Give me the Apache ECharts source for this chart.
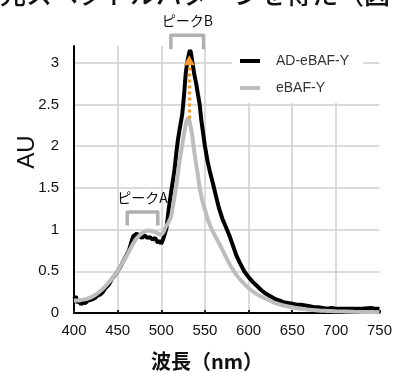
<!DOCTYPE html>
<html><head><meta charset="utf-8">
<script src="https://cdn.jsdelivr.net/npm/echarts@6/dist/echarts.min.js"></script>
<style>html,body{margin:0;padding:0;background:#fff}#c{width:395px;height:373px}</style>
</head><body><div id="c"></div>
<script>
// ---- data ----
const seriesNames = ['AD-eBAF-Y', 'eBAF-Y'];
const xTicks = [400, 450, 500, 550, 600, 650, 700, 750];
const yTicks = [0, 0.5, 1, 1.5, 2, 2.5, 3];
const adWavelength = [400,402,404,406,408,410,413,416,420,424,427,430,433,436,440,443,446,450,453,456,460,463,466,468,470,472,475,478,481,484,487,490,493,496,498,500,502,504,506,508,510,512,515,517,519,521,524,526,528,530,532,533,534,536,538,540,542,544,546,550,553,556,559,562,566,570,574,578,582,586,590,595,600,605,610,615,620,625,630,635,640,645,650,655,660,662,665,670,675,680,685,690,695,700,710,720,730,740,745,750];
const adValue = [0.17,0.2,0.12,0.16,0.1,0.13,0.12,0.15,0.16,0.18,0.21,0.22,0.25,0.3,0.34,0.4,0.44,0.5,0.55,0.61,0.69,0.75,0.86,0.92,0.9,0.95,0.92,0.9,0.93,0.9,0.91,0.88,0.9,0.84,0.87,0.83,0.88,0.9,1.02,1.2,1.36,1.5,1.7,1.9,2.07,2.2,2.38,2.6,2.87,3.02,3.12,3.15,3.12,2.98,2.85,2.75,2.62,2.5,2.3,2.0,1.82,1.68,1.56,1.43,1.26,1.13,1.03,0.93,0.81,0.69,0.6,0.5,0.43,0.37,0.32,0.27,0.23,0.2,0.17,0.15,0.13,0.12,0.11,0.1,0.1,0.12,0.09,0.08,0.07,0.07,0.06,0.05,0.06,0.05,0.05,0.05,0.05,0.06,0.05,0.05];
const eWavelength = [400,405,410,415,420,425,430,435,440,445,450,455,460,465,470,475,480,485,490,495,499,502,505,508,511,514,516,518,521,524,527,529,530.5,532,534,536,538,540,542,544,547,550,554,558,564,570,576,582,588,594,600,606,612,618,624,630,640,650,660,670,680,690,700,720,750];
const eValue = [0.15,0.15,0.16,0.17,0.19,0.22,0.26,0.31,0.37,0.43,0.5,0.59,0.68,0.78,0.87,0.93,0.97,0.99,0.98,0.96,0.94,0.96,1.03,1.08,1.15,1.32,1.45,1.59,1.82,2.02,2.2,2.3,2.33,2.31,2.22,2.08,1.92,1.78,1.65,1.5,1.35,1.24,1.1,1.0,0.88,0.76,0.63,0.52,0.43,0.36,0.3,0.25,0.21,0.18,0.15,0.12,0.09,0.07,0.05,0.04,0.03,0.025,0.02,0.015,0.01];
// annotations (data coordinates)
const arrowFrom = [532, 2.33], arrowTo = [532, 3.03];
const peakA = {label: 'ピークA', x0: 461, x1: 496, yTop: 1.21, yLeg: 1.05, yText: 1.38};
const peakB = {label: 'ピークB', x0: 511, x1: 548.5, yTop: 3.33, yLeg: 3.16, yText: 3.5};
const xName = '波長（nm）', yName = 'AU';
const topText = '光スペクトルパターンを得た（図';

const zip = (a, b) => a.map((v, i) => [v, b[i]]);
const chart = echarts.init(document.getElementById('c'), null, {renderer: 'canvas'});
const latin = '"Liberation Sans", Arial, sans-serif';
const cjk = '"Noto Sans CJK JP", sans-serif';
chart.setOption({
  animation: false,
  backgroundColor: '#fff',
  grid: {left: 74, right: 11, top: 46, bottom: 60, containLabel: false},
  legend: {
    orient: 'vertical', left: 232, top: 46, backgroundColor: '#fff',
    padding: [8, 14, 8, 8], itemWidth: 20, itemHeight: 4, itemGap: 13,
    icon: 'rect',
    textStyle: {fontFamily: latin, fontSize: 14, color: '#333', padding: [0, 0, 0, 11]},
    data: seriesNames
  },
  xAxis: {
    type: 'value', min: xTicks[0], max: xTicks[xTicks.length - 1], interval: 50,
    axisLine: {lineStyle: {color: '#000', width: 2}},
    axisTick: {show: true, inside: true, length: 3, lineStyle: {color: '#222', width: 2}},
    axisLabel: {fontFamily: latin, fontSize: 15, color: '#111', margin: 10},
    splitLine: {show: true, showMinLine: false, showMaxLine: false, lineStyle: {color: '#cfcfcf', width: 1.5}}
  },
  yAxis: {
    type: 'value', min: yTicks[0], max: 3.2, interval: 0.5,
    axisLine: {show: true, lineStyle: {color: '#000', width: 2}},
    axisTick: {show: false},
    axisLabel: {fontFamily: latin, fontSize: 15, color: '#111', margin: 15, showMaxLabel: false},
    splitLine: {show: true, showMinLine: false, showMaxLine: false, lineStyle: {color: '#cfcfcf', width: 1.5}}
  },
  series: [
    {name: seriesNames[0], type: 'line', data: zip(adWavelength, adValue), showSymbol: false, symbol: 'none',
     smooth: false, lineStyle: {color: '#000', width: 4}, itemStyle: {color: '#000'}},
    {name: seriesNames[1], type: 'line', data: zip(eWavelength, eValue), showSymbol: false, symbol: 'none',
     smooth: 0.3, lineStyle: {color: '#bdbdbd', width: 4}, itemStyle: {color: '#bdbdbd'},
     markLine: {silent: true, symbol: ['none', 'triangle'], symbolSize: [11, 10],
       label: {show: false},
       lineStyle: {color: '#f39a2e', width: 3, type: [3, 3]},
       data: [[{coord: arrowFrom}, {coord: arrowTo}]]}}
  ]
});

function px(p) { return chart.convertToPixel({gridIndex: 0}, p); }
function bracket(b) {
  const a = px([b.x0, b.yLeg]), c = px([b.x0, b.yTop]), d = px([b.x1, b.yTop]), e = px([b.x1, b.yLeg]);
  const t = px([(b.x0 + b.x1) / 2, b.yText]);
  return [
    {type: 'polyline', shape: {points: [a, c, d, e]}, style: {stroke: '#b0b0b0', lineWidth: 3.5, fill: null, lineJoin: 'round'}, z: 10},
    {type: 'text', x: t[0], y: t[1], style: {text: b.label, fontFamily: cjk, fontSize: 14, fill: '#111', align: 'center', verticalAlign: 'middle'}, z: 10}
  ];
}
const els = [].concat(bracket(peakA), bracket(peakB));
els.push({type: 'text', x: 27, y: 152, rotation: Math.PI / 2,
  style: {text: yName, fontFamily: latin, fontSize: 24, fill: '#111', align: 'center', verticalAlign: 'middle'}});
els.push({type: 'text', x: 207, y: 361,
  style: {text: xName, fontFamily: cjk, fontSize: 20, fontWeight: 'bold', fill: '#111', align: 'center', verticalAlign: 'middle'}});
els.push({type: 'text', x: 0, y: -6,
  style: {text: topText, fontFamily: cjk, fontSize: 26, fontWeight: 500, fill: '#111', align: 'left', verticalAlign: 'middle'}});
chart.setOption({graphic: {elements: els}});
</script></body></html>
